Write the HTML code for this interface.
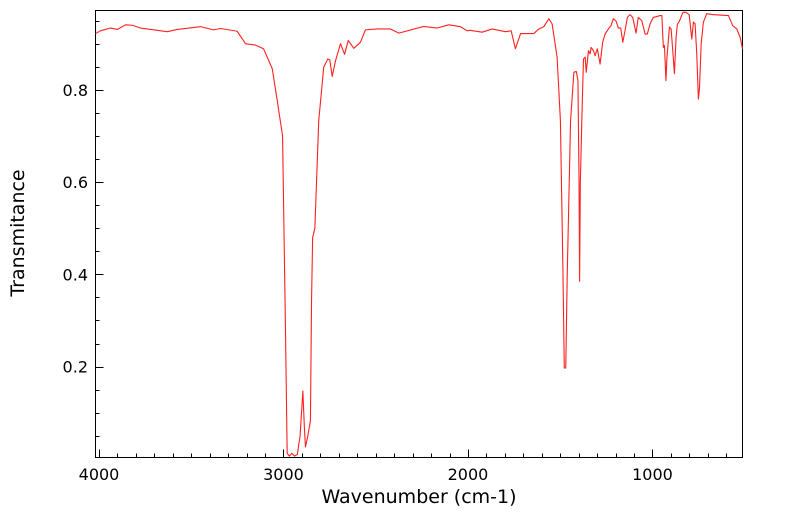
<!DOCTYPE html>
<html><head><meta charset="utf-8"><style>
body{margin:0;background:#fff;}
svg{display:block;font-family:"DejaVu Sans","Liberation Sans",sans-serif;}
</style></head><body>
<svg id="chart" width="799" height="516" viewBox="0 0 799 516" xmlns="http://www.w3.org/2000/svg">
<rect x="95.5" y="10.5" width="647" height="447" fill="none" stroke="#000" stroke-width="1"/>
<g id="ticks"></g>
<g id="labels" font-size="16" fill="#000"></g>
<path id="series" fill="none" stroke="#ff2020" stroke-width="1.1" stroke-linejoin="round"/>
<text x="419" y="503" font-size="19" text-anchor="middle">Wavenumber (cm-1)</text>
<text x="24" y="233" font-size="19" text-anchor="middle" transform="rotate(-90 24 233)">Transmitance</text>
</svg>
<script>
const wavenumbers=[4019,3992,3938,3900,3856,3820,3775,3630,3576,3450,3379,3341,3251,3206,3152,3108,3061,3034,3005,2990,2980,2968,2955,2940,2925,2910,2895,2887,2881,2868,2854,2848,2842,2830,2809,2782,2760,2749,2736,2718,2691,2669,2649,2619,2583,2556,2492,2420,2375,2240,2167,2104,2041,2004,1990,1923,1869,1797,1766,1743,1715,1643,1616,1589,1562,1544,1517,1499,1485,1478,1470,1462,1444,1426,1413,1404,1398,1395,1391,1383,1374,1365,1359,1347,1338,1333,1320,1311,1299,1284,1270,1257,1239,1225,1212,1197,1185,1172,1161,1149,1136,1122,1107,1089,1077,1058,1040,1028,1013,995,958,949,941,935,927,922,908,899,890,881,872,865,854,835,819,801,787,778,769,760,751,745,736,724,706,670,588,565,543,525,512];
const transmittance=[0.922,0.928,0.934,0.931,0.941,0.940,0.934,0.926,0.931,0.937,0.930,0.933,0.927,0.900,0.897,0.889,0.846,0.777,0.70,0.30,0.012,0.006,0.012,0.006,0.010,0.05,0.147,0.07,0.026,0.05,0.083,0.343,0.48,0.50,0.733,0.849,0.867,0.865,0.829,0.863,0.900,0.877,0.907,0.890,0.903,0.930,0.932,0.932,0.923,0.9375,0.934,0.941,0.937,0.928,0.929,0.925,0.932,0.926,0.928,0.889,0.922,0.922,0.932,0.937,0.954,0.943,0.871,0.733,0.40,0.197,0.197,0.40,0.733,0.838,0.840,0.820,0.60,0.385,0.60,0.733,0.867,0.871,0.838,0.885,0.878,0.892,0.885,0.874,0.889,0.856,0.903,0.921,0.932,0.939,0.954,0.949,0.934,0.934,0.903,0.928,0.957,0.963,0.957,0.923,0.957,0.950,0.921,0.921,0.943,0.957,0.961,0.961,0.892,0.896,0.820,0.867,0.936,0.932,0.885,0.835,0.914,0.942,0.949,0.968,0.968,0.963,0.910,0.947,0.943,0.878,0.780,0.805,0.900,0.947,0.965,0.963,0.961,0.939,0.932,0.914,0.889];
const xTickValues=[4000,3000,2000,1000];
const xTickLabels=["4000","3000","2000","1000"];
const yTickValues=[0.2,0.4,0.6,0.8];
const yTickLabels=["0.2","0.4","0.6","0.8"];

const L=95.5,R=742.5,T=10.5,B=457.5;
const xMax=4019,xMin=512,yMin=0.003,yMax=0.972;
const sx=v=>L+(xMax-v)/(xMax-xMin)*(R-L);
const sy=v=>B-(v-yMin)/(yMax-yMin)*(B-T);
const NS="http://www.w3.org/2000/svg";
const tg=document.getElementById('ticks'),lg=document.getElementById('labels');
function line(x1,y1,x2,y2,name){const l=document.createElementNS(NS,'line');
l.setAttribute('x1',x1);l.setAttribute('y1',y1);l.setAttribute('x2',x2);l.setAttribute('y2',y2);
l.setAttribute('stroke','#000');l.setAttribute('stroke-width','1');


tg.appendChild(l);}
for(let w=600;w<=4000;w+=100){const x=Math.round(sx(w))+0.5;const major=w%1000===0;line(x,B,x,B-(major?8:4),major?'x-major-tick':'x-minor-tick');}
for(let v=0.05;v<0.97;v+=0.05){const y=Math.round(sy(v))+0.5;const major=Math.abs(v*5-Math.round(v*5))<1e-6;line(L,y,L+(major?8:4),y,major?'y-major-tick':'y-minor-tick');}
xTickValues.forEach((v,i)=>{const t=document.createElementNS(NS,'text');t.setAttribute('x',sx(v));t.setAttribute('y',480);t.setAttribute('text-anchor','middle');t.textContent=xTickLabels[i];


lg.appendChild(t);});
yTickValues.forEach((v,i)=>{const t=document.createElementNS(NS,'text');t.setAttribute('x',88);t.setAttribute('y',sy(v)+6);t.setAttribute('text-anchor','end');t.textContent=yTickLabels[i];


lg.appendChild(t);});
let d='';wavenumbers.forEach((w,i)=>{d+=(i?'L':'M')+sx(w).toFixed(2)+' '+sy(transmittance[i]).toFixed(2);});
document.getElementById('series').setAttribute('d',d);
</script>
</body></html>
